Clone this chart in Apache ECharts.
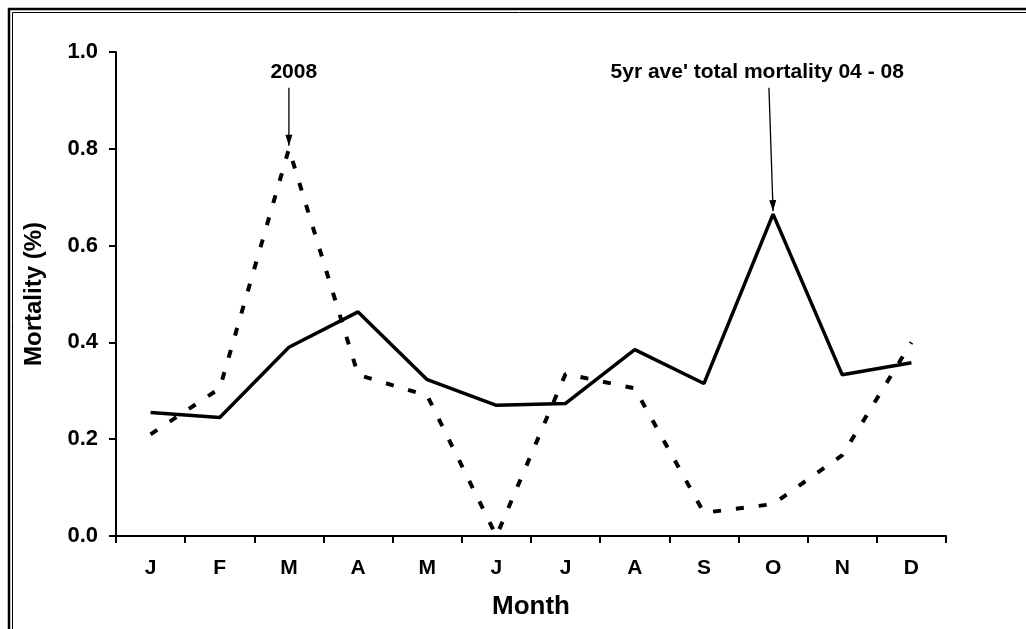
<!DOCTYPE html>
<html>
<head>
<meta charset="utf-8">
<script src="https://cdn.jsdelivr.net/npm/echarts@6/dist/echarts.min.js"></script>
<style>
html,body{margin:0;padding:0;background:#fff;}
#chart{width:1026px;height:629px;}
</style>
</head>
<body>
<div id="chart"></div>
<script>
const months = ['J','F','M','A','M','J','J','A','S','O','N','D'];
const avgMortality = [0.255, 0.245, 0.39, 0.463, 0.323, 0.27, 0.274, 0.385, 0.315, 0.665, 0.333, 0.358];
const mortality2008 = [0.21, 0.305, 0.80, 0.333, 0.29, 0.0, 0.335, 0.305, 0.048, 0.066, 0.167, 0.40];
const annotations = [
  {text: '2008', series: 1, index: 2, textShift: 0.07, textY: 0.958, arrowShift: 0.0, arrowTop: 0.926},
  {text: "5yr ave' total mortality 04 - 08", series: 0, index: 9, textShift: -0.23, textY: 0.958, arrowShift: -0.06, arrowTop: 0.926}
];

const FONT = '"Liberation Sans", Arial, sans-serif';
const chart = echarts.init(document.getElementById('chart'));
const option = {
  animation: false,
  backgroundColor: '#fff',
  grid: {left: 116, right: 80, top: 52, bottom: 93, outerBoundsMode: 'none', containLabel: false},
  xAxis: {
    type: 'category',
    data: months,
    boundaryGap: true,
    axisLine: {lineStyle: {color: '#000', width: 2}},
    axisTick: {show: true, length: 7, inside: false, lineStyle: {color: '#000', width: 2}},
    axisLabel: {color: '#000', fontWeight: 'bold', fontSize: 21, fontFamily: FONT, margin: 22},
    name: 'Month',
    nameLocation: 'middle',
    nameGap: 58,
    nameTextStyle: {color: '#000', fontWeight: 'bold', fontSize: 26, fontFamily: FONT},
    splitLine: {show: false}
  },
  yAxis: {
    type: 'value',
    min: 0, max: 1, interval: 0.2,
    axisLine: {show: true, lineStyle: {color: '#000', width: 2}},
    axisTick: {show: true, length: 7, lineStyle: {color: '#000', width: 2}},
    axisLabel: {color: '#000', fontWeight: 'bold', fontSize: 22, fontFamily: FONT, margin: 18,
      formatter: v => v.toFixed(1)},
    splitLine: {show: false},
    name: 'Mortality (%)',
    nameLocation: 'middle',
    nameGap: 70,
    nameRotate: 90,
    nameTextStyle: {color: '#000', fontWeight: 'bold', fontSize: 24, fontFamily: FONT}
  },
  series: [
    {name: "5yr ave' total mortality 04 - 08", type: 'line', data: avgMortality, symbol: 'none',
      lineStyle: {color: '#000', width: 3.5, type: 'solid'}},
    {name: '2008', type: 'line', data: mortality2008, symbol: 'none',
      lineStyle: {color: '#000', width: 4, type: [8, 15]}}
  ]
};
chart.setOption(option);

const seriesData = [avgMortality, mortality2008];
const graphics = [
  {type: 'rect', shape: {x: 9, y: 9, width: 1100, height: 700}, style: {fill: null, stroke: '#000', lineWidth: 2.5}, silent: true},
  {type: 'rect', shape: {x: 12.5, y: 12.5, width: 1100, height: 700}, style: {fill: null, stroke: '#000', lineWidth: 1}, silent: true}
];
const p0 = chart.convertToPixel({gridIndex: 0}, [0, 0]);
const p1 = chart.convertToPixel({gridIndex: 0}, [1, 0]);
const band = p1[0] - p0[0];
annotations.forEach(a => {
  const target = chart.convertToPixel({gridIndex: 0}, [a.index, seriesData[a.series][a.index]]);
  const topY = chart.convertToPixel({gridIndex: 0}, [a.index, a.arrowTop])[1];
  const txtY = chart.convertToPixel({gridIndex: 0}, [a.index, a.textY])[1];
  const startX = target[0] + a.arrowShift * band;
  const txtX = target[0] + a.textShift * band;
  const tipY = target[1] - 3;
  graphics.push({type: 'line', shape: {x1: startX, y1: topY, x2: target[0], y2: tipY}, style: {stroke: '#000', lineWidth: 1.3}, silent: true});
  const ang = Math.atan2(tipY - topY, target[0] - startX);
  const L = 11, W = 3.5;
  const bx = target[0] - L * Math.cos(ang), by = tipY - L * Math.sin(ang);
  const px = -Math.sin(ang) * W, py = Math.cos(ang) * W;
  graphics.push({type: 'polygon', shape: {points: [[target[0], tipY], [bx + px, by + py], [bx - px, by - py]]}, style: {fill: '#000'}, silent: true});
  graphics.push({type: 'text', x: txtX, y: txtY, style: {text: a.text, fill: '#000', font: 'bold 21px ' + FONT, textAlign: 'center', textVerticalAlign: 'middle'}, silent: true});
});
chart.setOption({graphic: graphics});
</script>
</body>
</html>
